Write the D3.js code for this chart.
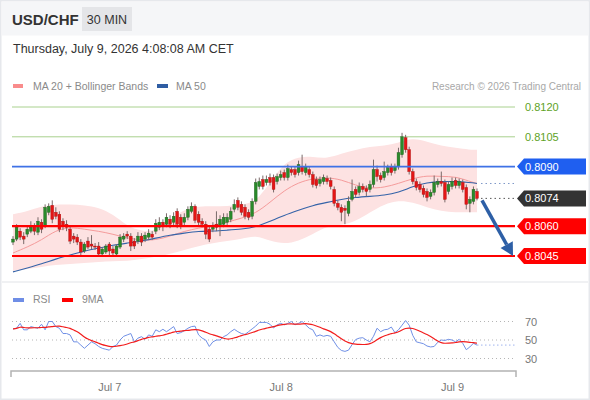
<!DOCTYPE html>
<html>
<head>
<meta charset="utf-8">
<script src="https://cdn.jsdelivr.net/npm/d3@7"></script>
<style>
  body { margin: 0; background: #fff; }
  svg { display: block; font-family: "Liberation Sans", Arial, sans-serif; }
</style>
</head>
<body>
<div id="chart"></div>
<script>
// ── Candles (30 min bars, USD/CHF) ──
const opens = [
  0.80520,0.80535,0.80575,0.80550,0.80560,0.80575,0.80600,0.80570,0.80620,0.80600,
  0.80670,0.80705,0.80670,0.80660,0.80625,0.80610,0.80585,0.80550,0.80545,0.80520,
  0.80475,0.80525,0.80510,0.80500,0.80500,0.80460,0.80470,0.80510,0.80485,0.80460,
  0.80495,0.80535,0.80560,0.80550,0.80525,0.80525,0.80550,0.80535,0.80545,0.80560,
  0.80575,0.80595,0.80620,0.80610,0.80635,0.80620,0.80675,0.80645,0.80620,0.80645,
  0.80675,0.80700,0.80660,0.80625,0.80610,0.80585,0.80585,0.80610,0.80600,0.80610,
  0.80620,0.80635,0.80685,0.80730,0.80710,0.80695,0.80670,0.80650,0.80725,0.80800,
  0.80835,0.80820,0.80845,0.80845,0.80825,0.80845,0.80870,0.80845,0.80885,0.80885,
  0.80870,0.80900,0.80870,0.80885,0.80860,0.80835,0.80815,0.80825,0.80840,0.80830,
  0.80785,0.80715,0.80695,0.80690,0.80665,0.80735,0.80785,0.80770,0.80800,0.80790,
  0.80785,0.80810,0.80885,0.80855,0.80845,0.80870,0.80900,0.80880,0.80900,0.80960,
  0.81045,0.80985,0.80875,0.80825,0.80810,0.80790,0.80775,0.80750,0.80770,0.80810,
  0.80825,0.80820,0.80775,0.80800,0.80830,0.80805,0.80820,0.80795,0.80715,0.80725,
  0.80775
];
const highs = [
  0.80550,0.80610,0.80590,0.80570,0.80605,0.80625,0.80615,0.80645,0.80635,0.80710,
  0.80715,0.80730,0.80695,0.80675,0.80640,0.80630,0.80600,0.80565,0.80560,0.80535,
  0.80520,0.80545,0.80555,0.80515,0.80520,0.80495,0.80510,0.80520,0.80500,0.80510,
  0.80560,0.80565,0.80575,0.80565,0.80540,0.80570,0.80565,0.80570,0.80585,0.80575,
  0.80635,0.80645,0.80635,0.80665,0.80655,0.80670,0.80690,0.80660,0.80665,0.80700,
  0.80720,0.80710,0.80675,0.80640,0.80625,0.80600,0.80620,0.80675,0.80655,0.80665,
  0.80665,0.80695,0.80735,0.80745,0.80725,0.80710,0.80685,0.80740,0.80840,0.80845,
  0.80855,0.80855,0.80865,0.80860,0.80865,0.80880,0.80885,0.80910,0.80900,0.80900,
  0.80930,0.80960,0.80915,0.80900,0.80875,0.80850,0.80850,0.80860,0.80855,0.80845,
  0.80800,0.80730,0.80710,0.80705,0.80750,0.80835,0.80800,0.80820,0.80815,0.80805,
  0.80830,0.80935,0.80905,0.80870,0.80925,0.80910,0.80915,0.80915,0.80995,0.81070,
  0.81060,0.81000,0.80890,0.80840,0.80825,0.80805,0.80790,0.80785,0.80855,0.80840,
  0.80875,0.80835,0.80825,0.80845,0.80845,0.80840,0.80835,0.80810,0.80750,0.80800,
  0.80790
];
const lows = [
  0.80505,0.80525,0.80530,0.80510,0.80545,0.80565,0.80555,0.80555,0.80565,0.80590,
  0.80655,0.80615,0.80635,0.80570,0.80580,0.80575,0.80510,0.80515,0.80505,0.80455,
  0.80465,0.80485,0.80485,0.80480,0.80450,0.80450,0.80460,0.80455,0.80450,0.80450,
  0.80485,0.80520,0.80535,0.80475,0.80485,0.80510,0.80500,0.80520,0.80530,0.80530,
  0.80560,0.80580,0.80575,0.80595,0.80590,0.80605,0.80590,0.80585,0.80605,0.80630,
  0.80665,0.80615,0.80605,0.80595,0.80535,0.80520,0.80570,0.80575,0.80550,0.80595,
  0.80605,0.80620,0.80670,0.80680,0.80655,0.80635,0.80630,0.80635,0.80710,0.80785,
  0.80785,0.80805,0.80805,0.80770,0.80810,0.80830,0.80830,0.80830,0.80855,0.80845,
  0.80855,0.80860,0.80855,0.80845,0.80795,0.80790,0.80800,0.80810,0.80810,0.80785,
  0.80700,0.80680,0.80625,0.80610,0.80650,0.80725,0.80745,0.80755,0.80770,0.80750,
  0.80770,0.80795,0.80825,0.80820,0.80830,0.80855,0.80855,0.80865,0.80885,0.80945,
  0.80970,0.80860,0.80810,0.80780,0.80770,0.80745,0.80725,0.80735,0.80755,0.80795,
  0.80800,0.80720,0.80760,0.80785,0.80790,0.80790,0.80770,0.80685,0.80670,0.80710,
  0.80730
];
const closes = [
  0.80535,0.80595,0.80545,0.80535,0.80585,0.80595,0.80575,0.80625,0.80585,0.80695,
  0.80700,0.80635,0.80650,0.80585,0.80600,0.80595,0.80525,0.80535,0.80520,0.80470,
  0.80510,0.80495,0.80500,0.80495,0.80460,0.80485,0.80500,0.80475,0.80465,0.80500,
  0.80545,0.80550,0.80550,0.80500,0.80500,0.80550,0.80520,0.80555,0.80565,0.80545,
  0.80615,0.80620,0.80600,0.80645,0.80610,0.80650,0.80610,0.80600,0.80645,0.80685,
  0.80700,0.80630,0.80620,0.80610,0.80560,0.80535,0.80600,0.80595,0.80635,0.80645,
  0.80645,0.80675,0.80710,0.80695,0.80670,0.80650,0.80645,0.80725,0.80820,0.80825,
  0.80800,0.80835,0.80820,0.80785,0.80850,0.80860,0.80845,0.80890,0.80870,0.80860,
  0.80910,0.80875,0.80900,0.80860,0.80810,0.80805,0.80835,0.80845,0.80825,0.80800,
  0.80715,0.80695,0.80670,0.80680,0.80725,0.80775,0.80760,0.80800,0.80785,0.80775,
  0.80810,0.80885,0.80850,0.80835,0.80875,0.80895,0.80870,0.80900,0.80970,0.81050,
  0.80985,0.80875,0.80825,0.80795,0.80785,0.80760,0.80745,0.80770,0.80820,0.80825,
  0.80815,0.80735,0.80810,0.80825,0.80805,0.80825,0.80785,0.80710,0.80735,0.80785,
  0.80740
];

// ── Indicators, read every 4 bars ──
const bandBars = [0,4,8,12,16,20,24,28,32,36,40,44,48,52,56,60,64,68,72,76,80,84,88,92,96,100,104,108,112,116,120,124,128,130];
const bbUpper = [
  0.80660,0.80675,0.80700,0.80710,0.80710,0.80705,0.80695,0.80660,0.80600,0.80575,
  0.80575,0.80635,0.80685,0.80700,0.80700,0.80700,0.80710,0.80720,0.80820,0.80920,
  0.80950,0.80950,0.80940,0.80965,0.80985,0.81000,0.81005,0.81020,0.81045,0.81025,
  0.81005,0.80995,0.80985,0.80985
];
const bbLower = [
  0.80375,0.80385,0.80395,0.80405,0.80410,0.80415,0.80420,0.80425,0.80425,0.80435,
  0.80445,0.80460,0.80480,0.80500,0.80515,0.80525,0.80535,0.80555,0.80525,0.80510,
  0.80525,0.80560,0.80600,0.80605,0.80625,0.80670,0.80710,0.80730,0.80720,0.80695,
  0.80675,0.80670,0.80670,0.80670
];
const ma20 = [
  0.80465,0.80495,0.80530,0.80580,0.80595,0.80585,0.80575,0.80560,0.80540,0.80530,
  0.80530,0.80550,0.80575,0.80590,0.80605,0.80620,0.80640,0.80665,0.80720,0.80780,
  0.80820,0.80840,0.80845,0.80835,0.80805,0.80790,0.80795,0.80815,0.80840,0.80855,
  0.80850,0.80850,0.80825,0.80815
];
const ma50 = [
  0.80370,0.80390,0.80410,0.80435,0.80455,0.80475,0.80490,0.80505,0.80515,0.80525,
  0.80540,0.80555,0.80565,0.80575,0.80575,0.80580,0.80585,0.80595,0.80625,0.80655,
  0.80680,0.80705,0.80720,0.80735,0.80745,0.80750,0.80755,0.80770,0.80800,0.80820,
  0.80825,0.80825,0.80820,0.80815
];

// ── RSI (one value per bar) ──
const rsi = [
  62,62.7,68,61,61,64.5,63.5,62.7,67,61,
  70,70,64.5,62.7,57,57,55.5,48,48,44.5,
  41,44.5,48,46,43,41,40,39,43,44.5,
  50,54,55.5,57,48,52,53.6,50.7,55.5,54,
  61,59,61.6,59,61.6,64.5,57,58,60,62.7,
  64.5,65,55.5,52,50,43,48,50,50,53.6,
  55.5,59,61.6,59,57,56,59,62,65,69,
  69,69,67,63,66.4,68,66.4,68,70,66.4,
  68,70,66.4,62.7,61,54,55.5,54,55,54,
  48,42,38.7,37.7,39,45,50.5,52,52.5,50,
  48,54,62.7,59,61,61.6,64,58,61,66,
  71,66,55,48,47,46,43.5,42.5,43,47.5,
  50,49.5,50.7,50,48,50.7,46.4,39.5,42.5,46.5,
  44.5
];
const rsiLevels = [70, 50, 30];

// ── Key levels ──
const resistances = [0.8120, 0.8105];
const pivot = 0.8090;
const supports = [0.8060, 0.8045];
const lastPrice = "0.8074";
const dayTicks = [new Date(2026, 6, 7), new Date(2026, 6, 8), new Date(2026, 6, 9)];

(function () {
  const W = 590, H = 400;
  const plotL = 12, plotR = 515;

  const svg = d3.select("#chart").append("svg").attr("width", W).attr("height", H);

  // ── Frame + header ──
  svg.append("rect").attr("x", 0.75).attr("y", 0.75).attr("width", W - 1.5).attr("height", H - 1.5)
    .attr("fill", "#fff").attr("stroke", "#e6e8ec").attr("stroke-width", 1.5);
  svg.append("rect").attr("x", 1.5).attr("y", 1.5).attr("width", W - 3).attr("height", 34).attr("fill", "#f5f6f8");

  svg.append("text").attr("x", 12).attr("y", 25).attr("font-size", 15).attr("font-weight", "bold")
    .attr("fill", "#333").text("USD/CHF");
  svg.append("rect").attr("x", 82).attr("y", 7).attr("width", 50).attr("height", 24).attr("fill", "#e4e5e8");
  svg.append("text").attr("x", 107).attr("y", 24).attr("text-anchor", "middle").attr("font-size", 12.5)
    .attr("fill", "#333").text("30 MIN");
  svg.append("text").attr("x", 13).attr("y", 53).attr("font-size", 12.5).attr("fill", "#333")
    .text("Thursday, July 9, 2026 4:08:08 AM CET");

  // Legend
  svg.append("rect").attr("x", 13).attr("y", 84).attr("width", 10).attr("height", 4).attr("fill", "#f98c8c");
  svg.append("text").attr("x", 33).attr("y", 90).attr("font-size", 10.5).attr("fill", "#8a8a8a").text("MA 20 + Bollinger Bands");
  svg.append("rect").attr("x", 157).attr("y", 84).attr("width", 11).attr("height", 4).attr("fill", "#2f5da3");
  svg.append("text").attr("x", 176).attr("y", 90).attr("font-size", 10.5).attr("fill", "#8a8a8a").text("MA 50");
  svg.append("text").attr("x", 581).attr("y", 90).attr("text-anchor", "end").attr("font-size", 10)
    .attr("fill", "#a8a8a8").text("Research \u00a9 2026 Trading Central");

  // ── Scales ──
  const start = new Date(2026, 6, 6, 10, 30);
  const bars = closes.map((c, i) => ({
    t: d3.timeMinute.offset(start, 30 * i), o: opens[i], h: highs[i], l: lows[i], c: c
  }));
  const last = bars[bars.length - 1];

  const x = d3.scaleTime().domain([bars[0].t, last.t]).range([13, 477]);
  const y = d3.scaleLinear().domain([0.8120, 0.8045]).range([107, 256]);
  const yR = d3.scaleLinear().domain([30, 70]).range([358.5, 321.5]);

  const g = svg.append("g");

  // ── Bollinger band + moving averages ──
  const band = bandBars.map((b, i) => ({ t: bars[b].t, up: bbUpper[i], lo: bbLower[i], m20: ma20[i], m50: ma50[i] }));

  g.append("path").datum(band)
    .attr("fill", "#fde2e2")
    .attr("d", d3.area().curve(d3.curveBasis).x(d => x(d.t)).y0(d => y(d.lo)).y1(d => y(d.up)));

  // resistance lines (under candles)
  resistances.forEach(v => {
    g.append("line").attr("x1", plotL).attr("x2", plotR).attr("y1", y(v)).attr("y2", y(v))
      .attr("stroke", "#a9d18e").attr("stroke-width", 1);
  });

  g.append("path").datum(band).attr("fill", "none").attr("stroke", "#f59b9b").attr("stroke-width", 1)
    .attr("d", d3.line().curve(d3.curveBasis).x(d => x(d.t)).y(d => y(d.m20)));
  g.append("path").datum(band).attr("fill", "none").attr("stroke", "#3563a8").attr("stroke-width", 1.1)
    .attr("d", d3.line().curve(d3.curveBasis).x(d => x(d.t)).y(d => y(d.m50)));

  // ── Candles ──
  const bw = 2.8;
  const cg = g.append("g");
  cg.selectAll("line.wick").data(bars).enter().append("line")
    .attr("class", "wick")
    .attr("x1", d => x(d.t)).attr("x2", d => x(d.t))
    .attr("y1", d => y(d.h)).attr("y2", d => y(d.l))
    .attr("stroke", "#7a6a6a").attr("stroke-width", 1);
  cg.selectAll("rect.body").data(bars).enter().append("rect")
    .attr("class", "body")
    .attr("x", d => x(d.t) - bw / 2)
    .attr("y", d => y(Math.max(d.o, d.c)))
    .attr("width", bw)
    .attr("height", d => Math.max(1, Math.abs(y(d.o) - y(d.c))))
    .attr("fill", d => d.c >= d.o ? "#2a8a2a" : "#e41515")
    .attr("stroke", d => d.c >= d.o ? "#1c5e1c" : "#a81010")
    .attr("stroke-width", 0.4);

  // ── Level lines ──
  g.append("line").attr("x1", plotL).attr("x2", plotR).attr("y1", y(pivot)).attr("y2", y(pivot))
    .attr("stroke", "#3f72e6").attr("stroke-width", 1.6);
  supports.forEach(v => {
    g.append("line").attr("x1", plotL).attr("x2", plotR).attr("y1", y(v)).attr("y2", y(v))
      .attr("stroke", "#ff0000").attr("stroke-width", 2.2);
  });

  // dotted projections
  g.append("line").attr("x1", x(last.t) + 4).attr("x2", plotR).attr("y1", y(ma50[ma50.length - 1])).attr("y2", y(ma50[ma50.length - 1]))
    .attr("stroke", "#7f98c8").attr("stroke-width", 1).attr("stroke-dasharray", "1.5,3");
  g.append("line").attr("x1", x(last.t) + 4).attr("x2", plotR).attr("y1", y(last.c)).attr("y2", y(last.c))
    .attr("stroke", "#555").attr("stroke-width", 1).attr("stroke-dasharray", "1.5,3");

  // ── Forecast arrow ──
  const ax0 = x(last.t) + 5, ay0 = y(last.c) + 2;
  const ax1 = plotR - 2, ay1 = y(supports[1]);
  const ang = Math.atan2(ay1 - ay0, ax1 - ax0);
  const hl = 13, hw = 7;
  const bx = ax1 - hl * Math.cos(ang), by = ay1 - hl * Math.sin(ang);
  g.append("line").attr("x1", ax0).attr("y1", ay0).attr("x2", bx).attr("y2", by)
    .attr("stroke", "#2d5fa6").attr("stroke-width", 3.5);
  g.append("path")
    .attr("d", `M${ax1},${ay1} L${bx + hw * Math.sin(ang)},${by - hw * Math.cos(ang)} L${bx - hw * Math.sin(ang)},${by + hw * Math.cos(ang)} Z`)
    .attr("fill", "#2d5fa6");

  // ── Right labels ──
  resistances.forEach(v => {
    g.append("text").attr("x", 525).attr("y", y(v) + 4).attr("font-size", 11).attr("fill", "#5ea21f").text(v.toFixed(4));
  });
  function tag(v, fill, txt) {
    const yy = y(v);
    g.append("path").attr("d", `M${plotR + 2},${yy} L${plotR + 9},${yy - 8} H586 V${yy + 8} H${plotR + 9} Z`).attr("fill", fill);
    g.append("text").attr("x", 525).attr("y", yy + 4).attr("font-size", 11).attr("fill", "#fff").text(txt);
  }
  tag(pivot, "#1f5ff0", pivot.toFixed(4));
  tag(+lastPrice, "#333333", lastPrice);
  supports.forEach(v => tag(v, "#ff0000", v.toFixed(4)));

  // ── Panel separator ──
  svg.append("line").attr("x1", 2).attr("x2", W - 2).attr("y1", 282).attr("y2", 282).attr("stroke", "#f0f1f3").attr("stroke-width", 2);

  // ── RSI panel ──
  svg.append("rect").attr("x", 13).attr("y", 298).attr("width", 11).attr("height", 4).attr("fill", "#6f8ee6");
  svg.append("text").attr("x", 33).attr("y", 303).attr("font-size", 10.5).attr("fill", "#8a8a8a").text("RSI");
  svg.append("rect").attr("x", 62).attr("y", 298).attr("width", 11).attr("height", 4).attr("fill", "#ff0000");
  svg.append("text").attr("x", 82).attr("y", 303).attr("font-size", 10.5).attr("fill", "#8a8a8a").text("9MA");

  rsiLevels.forEach(v => {
    svg.append("line").attr("x1", plotL).attr("x2", plotR).attr("y1", yR(v)).attr("y2", yR(v))
      .attr("stroke", "#b5b5b5").attr("stroke-width", 1).attr("stroke-dasharray", "1,3");
    svg.append("text").attr("x", 525).attr("y", yR(v) + 4).attr("font-size", 11).attr("fill", "#777").text(v);
  });

  const rsiPts = bars.map((b, i) => ({ t: b.t, v: rsi[i] }));
  const ma9Pts = rsiPts.map((p, i) => ({ t: p.t, v: d3.mean(rsi.slice(Math.max(0, i - 8), i + 1)) }));

  svg.append("line").attr("x1", x(last.t)).attr("x2", plotR)
    .attr("y1", yR(rsi[rsi.length - 1])).attr("y2", yR(rsi[rsi.length - 1]))
    .attr("stroke", "#9fb4ee").attr("stroke-width", 1).attr("stroke-dasharray", "1.5,2.5");
  svg.append("path").datum(rsiPts).attr("fill", "none").attr("stroke", "#7090e6").attr("stroke-width", 1)
    .attr("d", d3.line().x(d => x(d.t)).y(d => yR(d.v)));
  svg.append("path").datum(ma9Pts).attr("fill", "none").attr("stroke", "#f21d1d").attr("stroke-width", 1.2)
    .attr("d", d3.line().curve(d3.curveBasis).x(d => x(d.t)).y(d => yR(d.v)));

  // ── Time axis ──
  svg.append("path").attr("d", `M11,377 V371 H516 V377`).attr("fill", "none")
    .attr("stroke", "#b3b3b3").attr("stroke-width", 1.5);
  const xAxis = svg.append("g").attr("transform", "translate(0,371)")
    .call(d3.axisBottom(x).tickValues(dayTicks).tickSize(0).tickPadding(12).tickFormat(d3.timeFormat("%b %-d")));
  xAxis.select(".domain").remove();
  xAxis.selectAll("text").attr("font-size", 11).attr("fill", "#777").attr("font-family", "Liberation Sans, Arial, sans-serif");
})();
</script>
</body>
</html>
